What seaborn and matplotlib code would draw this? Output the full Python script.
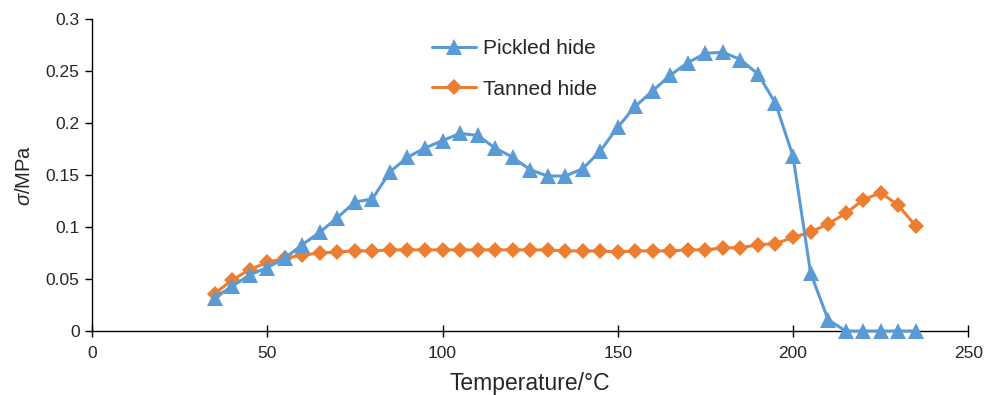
import numpy as np
import pandas as pd
import matplotlib
matplotlib.use("Agg")
import matplotlib.pyplot as plt
import seaborn as sns

temperature = list(range(35, 240, 5))
pickled_hide = [0.032, 0.043, 0.054, 0.061, 0.070, 0.083, 0.095, 0.109, 0.124, 0.127,
                0.153, 0.167, 0.176, 0.183, 0.190, 0.188, 0.176, 0.167, 0.155, 0.149,
                0.149, 0.156, 0.173, 0.196, 0.216, 0.231, 0.246, 0.258, 0.267, 0.268,
                0.261, 0.247, 0.219, 0.168, 0.056, 0.011, 0.0, 0.0, 0.0, 0.0, 0.0]
tanned_hide = [0.036, 0.049, 0.059, 0.066, 0.070, 0.073, 0.075, 0.076, 0.077, 0.077,
               0.078, 0.078, 0.078, 0.078, 0.078, 0.078, 0.078, 0.078, 0.078, 0.078,
               0.077, 0.077, 0.077, 0.076, 0.077, 0.077, 0.077, 0.078, 0.078, 0.080,
               0.080, 0.083, 0.084, 0.090, 0.095, 0.103, 0.113, 0.126, 0.133, 0.121, 0.101]
series_names = ["Pickled hide", "Tanned hide"]
x_ticks = [0, 50, 100, 150, 200, 250]
y_ticks = [0, 0.05, 0.1, 0.15, 0.2, 0.25, 0.3]
y_tick_labels = ["0", "0.05", "0.1", "0.15", "0.2", "0.25", "0.3"]

sns.set_style("white")
plt.rcParams['font.family'] = ['Liberation Sans', 'DejaVu Sans']
plt.rcParams['mathtext.fontset'] = 'custom'
plt.rcParams['mathtext.it'] = 'Liberation Sans:italic'
plt.rcParams['mathtext.rm'] = 'Liberation Sans'

df = pd.DataFrame({"T": temperature, series_names[0]: pickled_hide, series_names[1]: tanned_hide})

fig = plt.figure(figsize=(9.98, 3.95), dpi=100)
ax = fig.add_axes([0.0922, 0.162, 0.878, 0.790])

blue = "#5B9BD5"
orange = "#ED7D31"
sns.lineplot(data=df, x="T", y=series_names[0], ax=ax, color=blue, marker="^",
             markersize=12, markeredgecolor=blue, markeredgewidth=0, linewidth=2.2,
             label=series_names[0], zorder=3)
sns.lineplot(data=df, x="T", y=series_names[1], ax=ax, color=orange, marker="D",
             markersize=8.5, markeredgecolor=orange, markeredgewidth=0, linewidth=2.2,
             label=series_names[1], zorder=2)

ax.set_xlim(0, 250)
ax.set_ylim(0, 0.3)
ax.set_xticks(x_ticks)
ax.set_yticks(y_ticks)
ax.set_yticklabels(y_tick_labels)
ax.tick_params(axis="x", direction="inout", length=9, width=1, labelsize=12.5, color="black", pad=6)
ax.tick_params(axis="y", direction="out", length=5, width=1, labelsize=12.5, color="black", pad=4)
ax.tick_params(bottom=True, left=True)
for s in ["top", "right"]:
    ax.spines[s].set_visible(False)
for s in ["left", "bottom"]:
    ax.spines[s].set_color("black")
    ax.spines[s].set_linewidth(1)
for line in ax.lines:
    line.set_clip_on(False)

ax.set_xlabel("Temperature/°C", fontsize=16.5, labelpad=8)
ax.set_ylabel(r"$\sigma$/MPa", fontsize=14.5, labelpad=8)

leg = ax.legend(loc="upper left", bbox_to_anchor=(0.379, 0.963), frameon=False,
                fontsize=15, handlelength=2.1, labelspacing=1.05, handletextpad=0.33,
                borderaxespad=0)

fig.savefig("out.png", dpi=100)
